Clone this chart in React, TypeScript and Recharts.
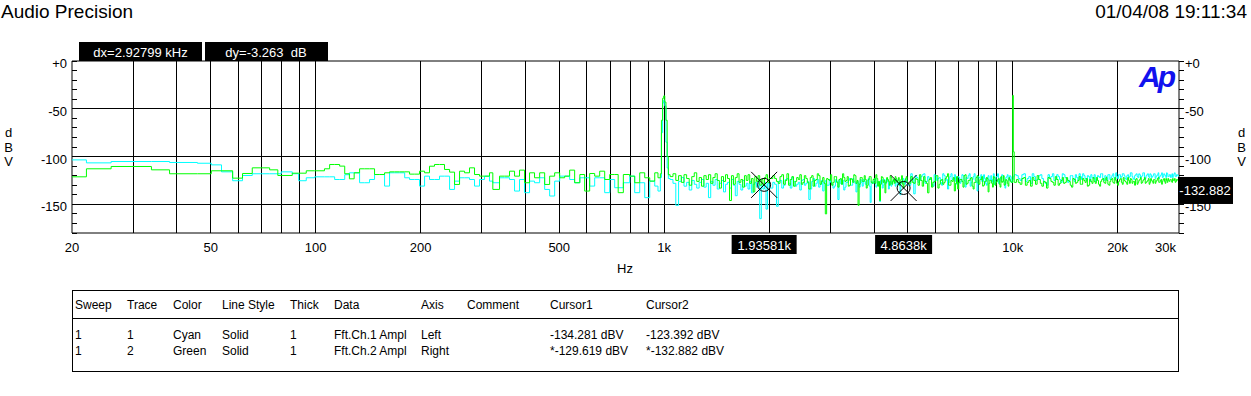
import { LineChart, Line, XAxis, YAxis, ReferenceLine, ReferenceArea, ReferenceDot } from 'recharts';

const FONT = '"Liberation Sans", Arial, sans-serif';

// ---- FFT readings (Hz / dBV) ----
const lowFreqs = [20, 22, 25.9, 33.8, 38.1, 45.8, 50.2, 53.7, 57.8, 61.7, 65.8, 73.8, 77.9, 79.7, 85.7, 89.4, 94, 99.3, 106, 109.7, 113.4, 117.2, 121.2, 125, 129];
const lowCyan = [-103.5, -106.6, -105.2, -105.2, -106.2, -107, -108.7, -116, -125.3, -119.8, -118, -118, -118, -116, -118, -125.3, -122.2, -121.2, -121.2, -121.2, -124, -124, -119, -117, -117];
const lowGreen = [-121.2, -112.8, -110.4, -113.9, -118, -118, -114.9, -114.9, -122.6, -117.7, -111.8, -113.9, -119.8, -119.8, -117.4, -117.4, -114.9, -114.9, -112.8, -108.3, -108.3, -110, -118, -123.3, -117];

const midFreqs = [133.7, 138.2, 142.8, 147.6, 152.6, 157.7, 163, 168.5, 174.2, 180.1, 186, 192.3, 198.7, 205.4, 212.2, 219.3, 226.7, 234.3, 242.3, 250.4, 258.8, 267.5, 276.4, 285.7, 295.3, 305.2, 315.4, 322.4, 337, 348.3, 360, 372.2, 384.6, 397.6, 410.9, 424.7, 439.3, 454.1, 469.3, 485.1, 501.4, 518.2, 535.6, 553.6, 572.9, 591.4, 611.3, 631.9, 653.1, 675.1, 697.8, 721.2, 738, 763.6, 796.4, 823.2, 850.9, 879.5, 909.1, 939.7, 960];
const midCyan = [-127.4, -127.4, -124, -118.8, -118.8, -130.9, -117, -117, -117, -122.2, -124, -124, -130.9, -120.5, -124, -124, -120.5, -120.5, -134.4, -125.7, -122.2, -122.2, -124, -130.9, -124, -120.5, -125.7, -127.4, -122.2, -122.2, -124, -136.1, -124, -137.8, -125.7, -127.4, -122.2, -134.4, -141.3, -125.7, -120.5, -120.5, -124, -127.4, -122.2, -122.2, -130.9, -122.2, -122.2, -137.8, -124, -132.6, -132.6, -127.4, -120.5, -137.8, -127.4, -143, -125.7, -130.9, -136.1];
const midGreen = [-112.8, -112.8, -112.8, -118.8, -118.8, -117, -116, -116, -116, -116, -118.4, -118.4, -115.3, -117, -110.1, -108.3, -108.3, -113.5, -116.3, -129.2, -115.3, -117, -111.8, -118.8, -120.5, -120.5, -117, -134.4, -120.5, -120.5, -115.3, -120.5, -114.2, -127.4, -117, -122.2, -117, -129.2, -120.5, -117, -122.2, -120.5, -114.2, -127.4, -118.8, -136.1, -117.7, -120.5, -115.3, -124, -118.8, -118.8, -137.8, -118.8, -120.5, -127.4, -117, -122.2, -125.7, -117, -122.2];

const peakFreqs = [975, 982, 990, 997, 1004, 1012, 1020, 1028];
const peakCyan = [-122, -75, -44, -41, -47, -85, -112, -123];
const peakGreen = [-118, -62, -39, -36.5, -43, -62, -100, -119];

const hfAFreqs = [1040, 1060, 1080, 1100, 1120, 1140, 1160, 1180, 1200, 1220, 1240, 1260, 1280, 1300, 1320, 1340, 1360, 1380, 1400, 1420, 1440, 1460, 1480, 1500, 1520, 1540, 1560, 1580, 1600, 1620, 1640, 1660, 1680, 1700, 1720, 1740, 1760, 1780, 1800, 1820, 1840, 1860, 1880, 1900, 1920, 1940, 1960, 1980, 2000];
const hfACyan = [-124, -128, -151, -126, -122, -131, -127, -135, -125, -129, -133, -127, -124, -132, -128, -143, -126, -130, -124, -134, -128, -125, -137, -129, -127, -133, -124, -130, -141, -126, -129, -135, -125, -131, -128, -134, -126, -138, -129, -127, -132, -125, -165, -130, -134, -127, -155, -128, -133];
const hfAGreen = [-121, -118, -125, -120, -127, -119, -123, -130, -121, -117, -126, -122, -131, -120, -124, -119, -128, -122, -118, -125, -133, -121, -126, -119, -123, -146, -120, -129, -122, -118, -127, -124, -132, -120, -125, -119, -128, -123, -137, -121, -126, -120, -130, -124, -130, -122, -119, -127, -123];

const hfBFreqs = [2050, 2100, 2150, 2200, 2250, 2300, 2350, 2400, 2450, 2500, 2550, 2600, 2650, 2700, 2750, 2800, 2850, 2900, 2950, 3000, 3050, 3100, 3150, 3200, 3250, 3300, 3350, 3400, 3450, 3500, 3550, 3600, 3650, 3700, 3750, 3800, 3850, 3900, 3950, 4000, 4050, 4100, 4150, 4200, 4250, 4300, 4350, 4400, 4450, 4500, 4550, 4600, 4650, 4700, 4750, 4800, 4850, 4900, 4950, 5000];
const hfBCyan = [-127, -152, -125, -130, -123, -133, -126, -129, -135, -124, -128, -145, -126, -131, -124, -129, -136, -125, -130, -127, -133, -124, -145, -128, -125, -132, -127, -123, -130, -126, -137, -128, -124, -131, -126, -129, -123, -148, -127, -125, -132, -126, -147, -124, -130, -127, -123, -134, -126, -129, -124, -131, -125, -128, -140, -126, -123, -129, -125, -130];
const hfBGreen = [-120, -126, -121, -129, -118, -124, -131, -122, -119, -127, -123, -134, -120, -125, -118, -129, -122, -160, -124, -119, -127, -121, -132, -123, -118, -126, -121, -130, -124, -119, -128, -151, -122, -126, -120, -133, -124, -121, -128, -123, -119, -131, -146, -121, -127, -138, -122, -126, -120, -129, -124, -121, -127, -122, -128, -120, -133, -125, -121, -128];

const hfB2Freqs = [2075, 2125, 2175, 2225, 2275, 2325, 2375, 2425, 2475, 2525, 2575, 2625, 2675, 2725, 2775, 2825, 2875, 2925, 2975, 3025, 3075, 3125, 3175, 3225, 3275, 3325, 3375, 3425, 3475, 3525, 3575, 3625, 3675, 3725, 3775, 3825, 3875, 3925, 3975, 4025, 4075, 4125, 4175, 4225, 4275, 4325, 4375, 4425, 4475, 4525, 4575, 4625, 4675, 4725, 4775, 4825, 4875, 4925, 4975];
const hfB2Cyan = [-129, -126, -133, -124, -128, -122, -131, -127, -125, -130, -126, -134, -123, -128, -132, -125, -127, -130, -124, -129, -131, -126, -124, -129, -135, -127, -125, -130, -123, -128, -126, -132, -127, -124, -129, -125, -131, -126, -128, -123, -130, -127, -125, -133, -124, -128, -126, -129, -131, -125, -127, -124, -130, -126, -128, -125, -129, -124, -127];
const hfB2Green = [-123, -128, -119, -125, -130, -121, -126, -124, -129, -120, -127, -122, -131, -124, -120, -126, -128, -123, -125, -130, -121, -127, -124, -129, -122, -125, -131, -123, -127, -120, -125, -129, -122, -126, -124, -130, -121, -127, -124, -128, -123, -126, -129, -122, -125, -127, -124, -130, -122, -126, -128, -123, -125, -130, -124, -129, -126, -123, -127];

const hfCFreqs = [5100, 5200, 5300, 5400, 5500, 5600, 5700, 5800, 5900, 6000, 6100, 6200, 6300, 6400, 6500, 6600, 6700, 6800, 6900, 7000, 7100, 7200, 7300, 7400, 7500, 7600, 7700, 7800, 7900, 8000, 8100, 8200, 8300, 8400, 8500, 8600, 8700, 8800, 8900, 9000, 9100, 9200, 9300, 9400, 9500, 9600, 9700, 9800, 9900];
const hfCCyan = [-118, -139, -122, -125, -119, -128, -121, -124, -131, -120, -123, -127, -118, -125, -134, -121, -124, -119, -129, -122, -126, -120, -132, -123, -118, -127, -121, -125, -136, -122, -119, -126, -123, -130, -120, -124, -127, -118, -125, -121, -128, -122, -119, -126, -133, -121, -124, -120, -127];
const hfCGreen = [-121, -128, -124, -119, -131, -126, -138, -122, -127, -120, -133, -125, -129, -123, -118, -130, -126, -136, -121, -127, -124, -132, -119, -128, -125, -122, -134, -127, -120, -129, -124, -131, -126, -122, -137, -125, -128, -121, -130, -126, -123, -132, -127, -120, -129, -125, -131, -124, -127];

const hfC2Freqs = [5150, 5250, 5350, 5450, 5550, 5650, 5750, 5850, 5950, 6050, 6150, 6250, 6350, 6450, 6550, 6650, 6750, 6850, 6950, 7050, 7150, 7250, 7350, 7450, 7550, 7650, 7750, 7850, 7950, 8050, 8150, 8250, 8350, 8450, 8550, 8650, 8750, 8850, 8950, 9050, 9150, 9250, 9350, 9450, 9550, 9650, 9750, 9850];
const hfC2Cyan = [-124, -120, -127, -121, -118, -126, -123, -129, -119, -125, -122, -130, -120, -124, -127, -118, -123, -126, -121, -128, -119, -125, -122, -120, -131, -124, -118, -127, -121, -123, -126, -119, -128, -122, -125, -120, -124, -129, -121, -118, -126, -123, -120, -127, -122, -119, -125, -121];
const hfC2Green = [-127, -123, -130, -125, -121, -128, -124, -132, -126, -120, -129, -124, -127, -121, -130, -125, -122, -128, -134, -124, -126, -120, -129, -125, -123, -131, -127, -122, -128, -124, -121, -130, -126, -123, -128, -125, -132, -122, -127, -124, -129, -121, -126, -130, -124, -128, -122, -126];

const tone10kFreqs = [10000, 10040, 10100];
const tone10kCyan = [-124, -121, -119];
const tone10kGreen = [-36, -95, -127];

const hfDFreqs = [10250, 10500, 10750, 11000, 11250, 11500, 11750, 12000, 12250, 12500, 12750, 13000, 13250, 13500, 13750, 14000, 14250, 14500, 14750, 15000, 15250, 15500, 15750, 16000, 16250, 16500, 16750, 17000, 17250, 17500, 17750, 18000, 18250, 18500, 18750, 19000, 19250, 19500, 19750, 20000, 20250, 20500, 20750, 21000, 21250, 21500, 21750, 22000, 22250, 22500, 22750, 23000, 23250, 23500, 23750, 24000, 24250, 24500, 24750, 25000, 25250, 25500, 25750, 26000, 26250, 26500, 26750, 27000, 27250, 27500, 27750, 28000, 28250, 28500, 28750, 29000, 29250, 29500, 29750, 30000];
const hfDCyan = [-120, -125, -118, -123, -128, -121, -124, -119, -126, -130, -122, -118, -124, -121, -127, -119, -123, -125, -120, -126, -122, -118, -124, -120, -125, -121, -119, -123, -126, -120, -122, -118, -125, -121, -119, -124, -120, -122, -117, -123, -119, -121, -118, -123, -120, -122, -117, -121, -124, -119, -121, -118, -122, -120, -117, -123, -119, -121, -118, -122, -120, -118, -121, -119, -123, -120, -117, -121, -119, -122, -118, -121, -119, -120, -122, -118, -121, -119, -120, -121];
const hfDGreen = [-124, -129, -122, -127, -131, -125, -120, -128, -126, -133, -123, -127, -121, -130, -125, -128, -122, -126, -132, -124, -127, -121, -129, -125, -123, -130, -126, -122, -128, -125, -131, -124, -127, -122, -129, -126, -123, -128, -125, -130, -124, -127, -122, -126, -129, -125, -123, -128, -126, -124, -129, -125, -122, -127, -124, -128, -126, -123, -127, -125, -128, -124, -126, -123, -127, -125, -129, -124, -126, -123, -127, -125, -124, -126, -123, -125, -127, -124, -125, -124];

const hfD2Freqs = [10375, 10625, 10875, 11125, 11375, 11625, 11875, 12125, 12375, 12625, 12875, 13125, 13375, 13625, 13875, 14125, 14375, 14625, 14875, 15125, 15375, 15625, 15875, 16125, 16375, 16625, 16875, 17125, 17375, 17625, 17875, 18125, 18375, 18625, 18875, 19125, 19375, 19625, 19875, 20125, 20375, 20625, 20875, 21125, 21375, 21625, 21875, 22125, 22375, 22625, 22875, 23125, 23375, 23625, 23875, 24125, 24375, 24625, 24875, 25125, 25375, 25625, 25875, 26125, 26375, 26625, 26875, 27125, 27375, 27625, 27875, 28125, 28375, 28625, 28875, 29125, 29375, 29625, 29875];
const hfD2Cyan = [-123, -119, -126, -121, -118, -125, -120, -123, -128, -119, -121, -125, -119, -124, -118, -122, -127, -120, -123, -119, -125, -121, -118, -123, -120, -126, -122, -119, -124, -121, -118, -123, -120, -125, -119, -122, -118, -124, -121, -119, -122, -118, -120, -124, -119, -121, -117, -123, -120, -118, -122, -119, -121, -117, -124, -120, -118, -122, -119, -121, -118, -123, -120, -117, -121, -119, -122, -118, -120, -117, -121, -119, -122, -118, -120, -117, -121, -119, -120];
const hfD2Green = [-127, -123, -130, -125, -122, -129, -124, -131, -127, -122, -126, -130, -124, -128, -122, -127, -125, -130, -123, -128, -125, -129, -123, -127, -131, -124, -128, -126, -122, -129, -126, -123, -128, -125, -130, -124, -127, -122, -128, -126, -123, -129, -125, -127, -122, -128, -124, -126, -130, -123, -127, -124, -128, -125, -122, -127, -125, -129, -123, -126, -124, -128, -125, -122, -127, -124, -126, -123, -128, -125, -123, -126, -124, -127, -125, -123, -126, -124, -125];

const bands: [number[], number[], number[]][] = [
  [lowFreqs, lowCyan, lowGreen],
  [midFreqs, midCyan, midGreen],
  [peakFreqs, peakCyan, peakGreen],
  [hfAFreqs, hfACyan, hfAGreen],
  [hfBFreqs, hfBCyan, hfBGreen],
  [hfB2Freqs, hfB2Cyan, hfB2Green],
  [hfCFreqs, hfCCyan, hfCGreen],
  [hfC2Freqs, hfC2Cyan, hfC2Green],
  [tone10kFreqs, tone10kCyan, tone10kGreen],
  [hfDFreqs, hfDCyan, hfDGreen],
  [hfD2Freqs, hfD2Cyan, hfD2Green],
];
const rows = bands
  .flatMap(([fs, cs, gs]) => fs.map((f, i) => ({ f, cyan: cs[i], green: gs[i] })))
  .sort((a, b) => a.f - b.f);

// axes
const xLabelFreqs = [20, 50, 100, 200, 500, 1000, 10000, 20000, 30000];
const xGridFreqs = [30, 40, 50, 60, 70, 80, 90, 100, 200, 300, 400, 500, 600, 700, 800, 900, 1000, 2000, 3000, 4000, 5000, 6000, 7000, 8000, 9000, 10000, 20000];
const yGridDb = [-50, -100, -150];
const yTickDb = [0, -10, -20, -30, -40, -50, -60, -70, -80, -90, -100, -110, -120, -130, -140, -150, -160, -170, -180];

// cursors and readouts
const cursors = [
  { f: 1935.81, db: -129.619, label: '1.93581k', boxW: 65 },
  { f: 4863.8, db: -132.882, label: '4.8638k', boxW: 57 },
];
const readout = { db: -132.882, label: '-132.882' };
const dxText = 'dx=2.92799 kHz';
const dyText = 'dy=-3.263  dB';
const titleText = 'Audio Precision';
const dateText = '01/04/08 19:11:34';

const tableHeader = ['Sweep', 'Trace', 'Color', 'Line Style', 'Thick', 'Data', 'Axis', 'Comment', 'Cursor1', 'Cursor2'];
const tableRows = [
  ['1', '1', 'Cyan', 'Solid', '1', 'Fft.Ch.1 Ampl', 'Left', '', '-134.281 dBV', '-123.392 dBV'],
  ['1', '2', 'Green', 'Solid', '1', 'Fft.Ch.2 Ampl', 'Right', '', '*-129.619 dBV', '*-132.882 dBV'],
];
const colX = [75, 127, 173, 222, 290, 334, 421, 467, 550, 646];

const fmtHz = (v: number) => (v >= 1000 ? `${v / 1000}k` : `${v}`);

const LeftTick = (props: any) => {
  const { x, y, payload } = props;
  const v = payload.value;
  return (
    <g>
      <line x1={x + 5} x2={x + 10} y1={y} y2={y} stroke="#000" shapeRendering="crispEdges" />
      {v % 50 === 0 && (
        <text x={x} y={y + 7} textAnchor="end" fontSize={13} fontFamily={FONT} fill="#000">
          {v === 0 ? '+0' : v}
        </text>
      )}
    </g>
  );
};

const RightTick = (props: any) => {
  const { x, y, payload } = props;
  const v = payload.value;
  return (
    <g>
      <line x1={x - 6} x2={x - 1} y1={y} y2={y} stroke="#000" shapeRendering="crispEdges" />
      {v % 50 === 0 && (
        <text x={x} y={y + 7} textAnchor="start" fontSize={13} fontFamily={FONT} fill="#000">
          {v === 0 ? '+0' : v}
        </text>
      )}
    </g>
  );
};

const BottomTick = (props: any) => {
  const { x, y, payload } = props;
  const last = payload.value === 30000;
  return (
    <text x={last ? x - 3 : x} y={y + 19} textAnchor={last ? 'end' : 'middle'} fontSize={13} fontFamily={FONT} fill="#000">
      {fmtHz(payload.value)}
    </text>
  );
};

const CursorMark = (props: any) => {
  const { cx, cy } = props;
  return (
    <g stroke="#000" strokeWidth={1} fill="none">
      <line x1={cx - 13} y1={cy - 13} x2={cx + 13} y2={cy + 13} />
      <line x1={cx - 13} y1={cy + 13} x2={cx + 13} y2={cy - 13} />
      <circle cx={cx} cy={cy} r={6.5} />
    </g>
  );
};

const cursorBox = (label: string, w: number) => (props: any) => {
  const { cx, cy } = props;
  return (
    <g>
      <rect x={cx - w / 2} y={cy + 2} width={w} height={19} fill="#000" />
      <text x={cx} y={cy + 17} textAnchor="middle" fontSize={13} fontFamily={FONT} fill="#fff">
        {label}
      </text>
    </g>
  );
};

const ReadoutBox = (props: any) => {
  const { cx, cy } = props;
  return (
    <g>
      <rect x={cx - 1} y={cy - 11} width={55} height={27} fill="#000" />
      <text x={cx + 26} y={cy + 7} textAnchor="middle" fontSize={13} fontFamily={FONT} fill="#fff">
        {readout.label}
      </text>
    </g>
  );
};

export default function App() {
  return (
    <div style={{ position: 'relative', width: 1251, height: 396, background: '#fff', fontFamily: FONT }}>
      <style>{'body{margin:0} .recharts-reference-line line, .recharts-reference-area rect { shape-rendering: crispEdges; }'}</style>
      <LineChart
        width={1251}
        height={396}
        data={rows}
        margin={{ top: 61, right: 12, bottom: 133, left: 12 }}
      >
        <XAxis
          dataKey="f"
          type="number"
          scale="log"
          domain={[20, 30000]}
          ticks={xLabelFreqs}
          allowDataOverflow
          axisLine={false}
          tickLine={false}
          tickSize={0}
          tickMargin={0}
          height={30}
          interval={0}
          tick={<BottomTick />}
        />
        <YAxis
          yAxisId="left"
          orientation="left"
          type="number"
          domain={[-180, 0]}
          ticks={yTickDb}
          allowDataOverflow
          width={60}
          axisLine={false}
          tickLine={false}
          tickSize={0}
          tickMargin={5}
          interval={0}
          tick={<LeftTick />}
        />
        <YAxis
          yAxisId="right"
          orientation="right"
          type="number"
          domain={[-180, 0]}
          ticks={yTickDb}
          allowDataOverflow
          width={60}
          axisLine={false}
          tickLine={false}
          tickSize={0}
          tickMargin={6}
          interval={0}
          tick={<RightTick />}
        />
        {xGridFreqs.map((f) => (
          <ReferenceLine key={`vx${f}`} x={f} yAxisId="left" stroke="#000" strokeWidth={1} />
        ))}
        {yGridDb.map((d) => (
          <ReferenceLine key={`hy${d}`} y={d} yAxisId="left" stroke="#000" strokeWidth={1} />
        ))}
        <ReferenceArea x1={20} x2={30000} y1={-180} y2={0} yAxisId="left" fill="none" stroke="#000" strokeWidth={1} fillOpacity={0} />
        <Line yAxisId="left" dataKey="cyan" type="stepAfter" stroke="#00ffff" strokeWidth={1} dot={false} isAnimationActive={false} />
        <Line yAxisId="right" dataKey="green" type="stepAfter" stroke="#00ff00" strokeWidth={1} dot={false} isAnimationActive={false} />
        {cursors.map((c) => (
          <ReferenceDot key={`cm${c.f}`} x={c.f} y={c.db} yAxisId="right" ifOverflow="visible" shape={<CursorMark />} />
        ))}
        {cursors.map((c) => (
          <ReferenceDot key={`cb${c.f}`} x={c.f} y={-180} yAxisId="left" ifOverflow="visible" shape={cursorBox(c.label, c.boxW)} />
        ))}
        <ReferenceDot x={30000} y={readout.db} yAxisId="right" ifOverflow="visible" shape={<ReadoutBox />} />
      </LineChart>

      <svg width={1251} height={396} style={{ position: 'absolute', left: 0, top: 0, pointerEvents: 'none' }} fontFamily={FONT}>
        <text x={1} y={18} fontSize={19} fill="#000">{titleText}</text>
        <text x={1247} y={18} fontSize={19} fill="#000" textAnchor="end">{dateText}</text>

        <rect x={79} y={42} width={123} height={19} fill="#000" />
        <text x={140.5} y={57} fontSize={13} fill="#fff" textAnchor="middle" style={{ whiteSpace: 'pre' }}>{dxText}</text>
        <rect x={205} y={42} width={123} height={19} fill="#000" />
        <text x={266} y={57} fontSize={13} fill="#fff" textAnchor="middle" style={{ whiteSpace: 'pre' }}>{dyText}</text>

        <text x={1139} y={87} fontSize={30} fontWeight="bold" fontStyle="italic" fill="#1111ee" letterSpacing={-3}>Ap</text>

        {['d', 'B', 'V'].map((ch, i) => (
          <text key={`l${ch}`} x={8.5} y={137 + i * 14.7} fontSize={13} textAnchor="middle" fill="#000">{ch}</text>
        ))}
        {['d', 'B', 'V'].map((ch, i) => (
          <text key={`r${ch}`} x={1241.5} y={137 + i * 14.7} fontSize={13} textAnchor="middle" fill="#000">{ch}</text>
        ))}
        <text x={625} y={273} fontSize={13} textAnchor="middle" fill="#000">Hz</text>

        <rect x={72.5} y={290.5} width={1106} height={81} fill="none" stroke="#000" />
        <line x1={72.5} x2={1178.5} y1={318.5} y2={318.5} stroke="#000" />
        {tableHeader.map((h, i) => (
          <text key={`th${i}`} x={colX[i]} y={309} fontSize={12} fill="#000">{h}</text>
        ))}
        {tableRows.map((r, ri) =>
          r.map((cell, i) => (
            <text key={`td${ri}-${i}`} x={colX[i]} y={339 + ri * 16} fontSize={12} fill="#000">{cell}</text>
          ))
        )}
      </svg>
    </div>
  );
}
